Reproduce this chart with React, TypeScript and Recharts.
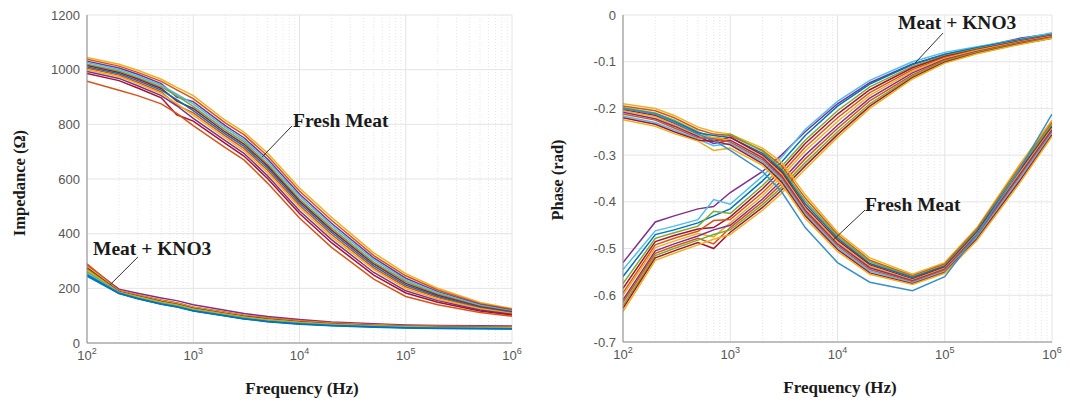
import React from 'react';
import { LineChart, Line, XAxis, YAxis, CartesianGrid, ReferenceLine, ReferenceDot } from 'recharts';

// sampled frequencies (Hz)
const FREQ = [100, 200, 300, 500, 700, 1000, 2000, 3000, 5000, 10000, 20000, 50000, 100000, 200000, 500000, 1000000];
const DECADE_TICKS = [100, 1000, 10000, 100000, 1000000];
const MINOR_TICKS = [
  200, 300, 400, 500, 600, 700, 800, 900,
  2000, 3000, 4000, 5000, 6000, 7000, 8000, 9000,
  20000, 30000, 40000, 50000, 60000, 70000, 80000, 90000,
  200000, 300000, 400000, 500000, 600000, 700000, 800000, 900000,
];
const IMP_TICKS = [0, 200, 400, 600, 800, 1000, 1200];
const PHASE_TICKS = [-0.7, -0.6, -0.5, -0.4, -0.3, -0.2, -0.1, 0];

// impedance, fresh meat (Ohm)
const impFresh = [
  [1045, 1020, 998, 965, 935, 905, 815, 772, 695, 567, 460, 330, 254, 200, 148, 126],
  [1038, 1013, 990, 957, 926, 894, 805, 762, 684, 556, 449, 320, 246, 194, 144, 123],
  [1031, 1006, 983, 949, 900, 883, 795, 751, 673, 545, 438, 311, 237, 188, 141, 120],
  [1026, 1001, 977, 943, 910, 875, 788, 743, 665, 537, 430, 304, 231, 184, 138, 118],
  [1020, 995, 971, 937, 904, 866, 780, 736, 656, 528, 421, 296, 225, 179, 135, 116],
  [1015, 990, 966, 931, 885, 858, 772, 728, 648, 520, 413, 289, 218, 175, 133, 114],
  [1010, 985, 960, 925, 890, 850, 765, 720, 640, 512, 405, 282, 212, 170, 130, 112],
  [1005, 980, 954, 919, 870, 842, 758, 712, 632, 504, 397, 275, 206, 166, 127, 110],
  [1000, 975, 949, 913, 876, 834, 750, 704, 623, 496, 388, 268, 199, 161, 125, 108],
  [993, 968, 941, 905, 868, 822, 740, 694, 612, 484, 378, 258, 191, 155, 121, 105],
  [986, 960, 933, 897, 835, 812, 730, 684, 602, 474, 367, 248, 183, 149, 117, 102],
  [958, 925, 905, 875, 840, 795, 715, 670, 585, 457, 350, 234, 170, 140, 112, 98],
];
const impFreshColors = ['#EDB120', '#D95319', '#7E2F8E', '#4DBEEE', '#77AC30', '#A2142F', '#0072BD', '#D95319', '#EDB120', '#7E2F8E', '#A2142F', '#D95319'];

// impedance, meat + KNO3 (Ohm)
const impKno3 = [
  [285, 197, 182, 165, 155, 140, 120, 108, 97, 86, 77, 70, 66, 64, 63, 62],
  [290, 192, 176, 157, 147, 132, 113, 102, 92, 82, 74, 67, 63, 61, 60, 59],
  [280, 190, 174, 155, 145, 130, 111, 100, 90, 80, 72, 66, 62, 60, 59, 58],
  [275, 188, 172, 152, 142, 127, 108, 98, 88, 78, 70, 64, 61, 59, 58, 57],
  [270, 186, 170, 150, 140, 125, 106, 96, 86, 76, 69, 63, 60, 58, 57, 56],
  [265, 185, 168, 148, 138, 123, 105, 94, 84, 75, 68, 62, 59, 57, 56, 55],
  [260, 184, 166, 146, 136, 121, 103, 92, 82, 73, 66, 61, 58, 56, 55, 54],
  [255, 183, 164, 144, 134, 119, 101, 90, 80, 71, 65, 60, 57, 55, 54, 53],
  [250, 182, 163, 143, 133, 118, 100, 89, 79, 70, 64, 59, 56, 54, 53, 52],
  [245, 181, 162, 142, 132, 117, 99, 88, 78, 69, 63, 58, 55, 53, 52, 51],
];
const impKno3Colors = ['#7E2F8E', '#D95319', '#EDB120', '#A2142F', '#77AC30', '#EDB120', '#77AC30', '#4DBEEE', '#0072BD', '#0072BD'];

// phase, fresh meat (rad)
const phFresh = [
  [-0.190, -0.200, -0.215, -0.240, -0.250, -0.255, -0.285, -0.315, -0.385, -0.465, -0.520, -0.555, -0.530, -0.455, -0.320, -0.225],
  [-0.195, -0.205, -0.220, -0.245, -0.255, -0.258, -0.290, -0.322, -0.392, -0.470, -0.525, -0.558, -0.533, -0.458, -0.325, -0.230],
  [-0.198, -0.210, -0.225, -0.250, -0.265, -0.255, -0.292, -0.328, -0.398, -0.474, -0.528, -0.560, -0.536, -0.461, -0.328, -0.234],
  [-0.200, -0.212, -0.228, -0.252, -0.258, -0.262, -0.296, -0.332, -0.404, -0.478, -0.532, -0.562, -0.538, -0.463, -0.332, -0.238],
  [-0.203, -0.215, -0.232, -0.255, -0.270, -0.262, -0.300, -0.336, -0.410, -0.482, -0.535, -0.565, -0.540, -0.466, -0.335, -0.240],
  [-0.205, -0.218, -0.235, -0.258, -0.262, -0.268, -0.303, -0.340, -0.414, -0.486, -0.538, -0.567, -0.542, -0.468, -0.338, -0.243],
  [-0.208, -0.222, -0.238, -0.260, -0.275, -0.268, -0.306, -0.344, -0.418, -0.490, -0.541, -0.569, -0.544, -0.470, -0.342, -0.246],
  [-0.212, -0.225, -0.242, -0.263, -0.265, -0.272, -0.310, -0.348, -0.422, -0.494, -0.545, -0.571, -0.546, -0.473, -0.346, -0.250],
  [-0.216, -0.230, -0.246, -0.266, -0.280, -0.275, -0.314, -0.352, -0.426, -0.498, -0.548, -0.573, -0.549, -0.476, -0.350, -0.253],
  [-0.220, -0.234, -0.250, -0.268, -0.270, -0.278, -0.318, -0.357, -0.430, -0.502, -0.552, -0.575, -0.551, -0.479, -0.355, -0.257],
  [-0.224, -0.238, -0.254, -0.270, -0.290, -0.285, -0.322, -0.362, -0.435, -0.506, -0.555, -0.577, -0.553, -0.482, -0.360, -0.260],
  [-0.200, -0.212, -0.230, -0.255, -0.268, -0.290, -0.335, -0.378, -0.455, -0.530, -0.572, -0.590, -0.560, -0.470, -0.330, -0.212],
];
const phFreshColors = ['#EDB120', '#D95319', '#77AC30', '#0072BD', '#A2142F', '#EDB120', '#7E2F8E', '#D95319', '#4DBEEE', '#A2142F', '#EDB120', '#3A8FC7'];

// phase, meat + KNO3 (rad)
const phKno3 = [
  [-0.530, -0.443, -0.430, -0.415, -0.410, -0.380, -0.335, -0.300, -0.250, -0.190, -0.145, -0.105, -0.085, -0.070, -0.050, -0.040],
  [-0.545, -0.462, -0.452, -0.438, -0.395, -0.405, -0.345, -0.305, -0.245, -0.185, -0.140, -0.100, -0.080, -0.068, -0.052, -0.038],
  [-0.560, -0.470, -0.460, -0.445, -0.430, -0.415, -0.355, -0.315, -0.258, -0.195, -0.148, -0.106, -0.084, -0.070, -0.053, -0.042],
  [-0.575, -0.478, -0.466, -0.452, -0.420, -0.425, -0.365, -0.325, -0.268, -0.205, -0.154, -0.110, -0.087, -0.072, -0.055, -0.043],
  [-0.585, -0.485, -0.472, -0.458, -0.455, -0.432, -0.372, -0.332, -0.275, -0.212, -0.160, -0.113, -0.089, -0.074, -0.056, -0.044],
  [-0.595, -0.492, -0.478, -0.463, -0.440, -0.438, -0.380, -0.340, -0.283, -0.220, -0.166, -0.117, -0.091, -0.075, -0.057, -0.045],
  [-0.600, -0.498, -0.484, -0.468, -0.475, -0.445, -0.387, -0.347, -0.291, -0.228, -0.172, -0.120, -0.093, -0.076, -0.058, -0.046],
  [-0.610, -0.505, -0.490, -0.473, -0.460, -0.450, -0.394, -0.355, -0.300, -0.236, -0.178, -0.124, -0.095, -0.078, -0.059, -0.047],
  [-0.615, -0.510, -0.495, -0.478, -0.490, -0.455, -0.400, -0.362, -0.308, -0.243, -0.184, -0.128, -0.097, -0.079, -0.060, -0.048],
  [-0.622, -0.515, -0.500, -0.482, -0.470, -0.460, -0.406, -0.369, -0.316, -0.250, -0.190, -0.131, -0.099, -0.080, -0.061, -0.049],
  [-0.628, -0.520, -0.505, -0.487, -0.500, -0.465, -0.412, -0.375, -0.323, -0.256, -0.195, -0.134, -0.101, -0.082, -0.062, -0.050],
  [-0.635, -0.525, -0.510, -0.492, -0.480, -0.470, -0.418, -0.382, -0.330, -0.262, -0.200, -0.137, -0.103, -0.083, -0.063, -0.050],
];
const phKno3Colors = ['#7E2F8E', '#4DBEEE', '#0072BD', '#77AC30', '#A2142F', '#D95319', '#EDB120', '#7E2F8E', '#D95319', '#77AC30', '#A2142F', '#EDB120'];

const buildRows = (a: number[][], b: number[][]) =>
  FREQ.map((f, i) => {
    const row: any = { f };
    a.forEach((c, j) => (row['a' + j] = c[i]));
    b.forEach((c, j) => (row['b' + j] = c[i]));
    return row;
  });

const impRows = buildRows(impFresh, impKno3);
const phRows = buildRows(phFresh, phKno3);

const SANS = '"Liberation Sans", Arial, sans-serif';
const SERIF = '"Liberation Serif", "Times New Roman", serif';
const AXIS = '#8c8c8c';

const PowTick = ({ x, y, payload }: any) => {
  const exp = Math.round(Math.log10(payload.value));
  return (
    <text x={x} y={y + 15} textAnchor="middle" fill="#555" fontSize={13} fontFamily={SANS}>
      10<tspan dy={-6} fontSize={9}>{exp}</tspan>
    </text>
  );
};

const noteStyle = { fill: '#1a1a1a', fontSize: 19.5, fontWeight: 700, fontFamily: SERIF };

// axes shared by both panels: log frequency, box, inward ticks
const frame = (yTicks: number[], yDomain: number[], yFmt: (v: number) => string) => [
  <CartesianGrid key="grid" stroke="#e4e4e4" />,
  ...MINOR_TICKS.map((m) => (
    <ReferenceLine key={'m' + m} x={m} stroke="#e6e6e6" strokeDasharray="1 2" />
  )),
  <XAxis key="x" dataKey="f" type="number" scale="log" domain={[100, 1000000]} ticks={DECADE_TICKS}
    tick={<PowTick />} tickSize={0} height={30} stroke={AXIS} allowDataOverflow />,
  <XAxis key="xb" xAxisId="bm" type="number" scale="log" domain={[100, 1000000]} ticks={MINOR_TICKS}
    mirror tick={false} tickSize={3} axisLine={false} stroke={AXIS} height={0} allowDataOverflow />,
  <XAxis key="xbM" xAxisId="bM" type="number" scale="log" domain={[100, 1000000]} ticks={DECADE_TICKS}
    mirror tick={false} tickSize={5} axisLine={false} stroke={AXIS} height={0} allowDataOverflow />,
  <XAxis key="xt" xAxisId="tm" orientation="top" type="number" scale="log" domain={[100, 1000000]} ticks={MINOR_TICKS}
    mirror tick={false} tickSize={3} stroke={AXIS} height={0} allowDataOverflow />,
  <XAxis key="xtM" xAxisId="tM" orientation="top" type="number" scale="log" domain={[100, 1000000]} ticks={DECADE_TICKS}
    mirror tick={false} tickSize={5} axisLine={false} stroke={AXIS} height={0} allowDataOverflow />,
  <YAxis key="y" type="number" domain={yDomain} ticks={yTicks} width={40} tickSize={0} tickMargin={7}
    tickFormatter={yFmt} stroke={AXIS} tick={{ fill: '#555', fontSize: 13, fontFamily: SANS }} allowDataOverflow />,
  <YAxis key="yl" yAxisId="lm" type="number" domain={yDomain} ticks={yTicks} mirror tick={false}
    tickSize={5} axisLine={false} stroke={AXIS} width={0} />,
  <YAxis key="yr" yAxisId="rm" orientation="right" type="number" domain={yDomain} ticks={yTicks} mirror
    tick={false} tickSize={5} stroke={AXIS} width={0} />,
];

const curves = (a: number[][], b: number[][], ca: string[], cb: string[]) => [
  ...b.map((_, j) => (
    <Line key={'b' + j} dataKey={'b' + j} stroke={cb[j]} strokeWidth={1.5} dot={false} isAnimationActive={false} />
  )),
  ...a.map((_, j) => (
    <Line key={'a' + j} dataKey={'a' + j} stroke={ca[j]} strokeWidth={1.5} dot={false} isAnimationActive={false} />
  )),
];

const titleStyle: React.CSSProperties = {
  position: 'absolute', fontFamily: SERIF, fontWeight: 700, fontSize: 17, color: '#1a1a1a', whiteSpace: 'nowrap',
};

export default function App() {
  return (
    <div style={{ position: 'absolute', left: 0, top: 0, width: 1084, height: 405, background: '#fff' }}>
      <div style={{ position: 'absolute', left: 0, top: 0 }}>
        <LineChart width={540} height={405} data={impRows} margin={{ top: 15, right: 28, bottom: 32, left: 47 }}>
          {frame(IMP_TICKS, [0, 1200], (v) => String(v))}
          {curves(impFresh, impKno3, impFreshColors, impKno3Colors)}
          <ReferenceLine segment={[{ x: 8490, y: 794 }, { x: 4440, y: 680 }]} stroke="#333" strokeWidth={1} />
          <ReferenceDot x={8690} y={816} r={0} stroke="none" label={{ value: 'Fresh Meat', position: 'right', offset: 0, ...noteStyle }} />
          <ReferenceLine segment={[{ x: 302, y: 315 }, { x: 164, y: 212 }]} stroke="#333" strokeWidth={1} />
          <ReferenceDot x={114} y={348} r={0} stroke="none" label={{ value: 'Meat + KNO3', position: 'right', offset: 0, ...noteStyle }} />
        </LineChart>
      </div>
      <div style={{ position: 'absolute', left: 540, top: 0 }}>
        <LineChart width={544} height={405} data={phRows} margin={{ top: 15, right: 32, bottom: 33, left: 43 }}>
          {frame(PHASE_TICKS, [-0.7, 0], (v) => (Math.abs(v) < 1e-9 ? '0' : v.toFixed(1)))}
          {curves(phFresh, phKno3, phFreshColors, phKno3Colors)}
          <ReferenceLine segment={[{ x: 96400, y: -0.0385 }, { x: 52800, y: -0.103 }]} stroke="#333" strokeWidth={1} />
          <ReferenceDot x={36650} y={-0.015} r={0} stroke="none" label={{ value: 'Meat + KNO3', position: 'right', offset: 0, ...noteStyle }} />
          <ReferenceLine segment={[{ x: 18030, y: -0.4176 }, { x: 9080, y: -0.482 }]} stroke="#333" strokeWidth={1} />
          <ReferenceDot x={18030} y={-0.405} r={0} stroke="none" label={{ value: 'Fresh Meat', position: 'right', offset: 0, ...noteStyle }} />
        </LineChart>
      </div>
      <div style={{ ...titleStyle, left: 302, top: 389, transform: 'translate(-50%, -50%)' }}>Frequency (Hz)</div>
      <div style={{ ...titleStyle, left: 840, top: 388, transform: 'translate(-50%, -50%)' }}>Frequency (Hz)</div>
      <div style={{ ...titleStyle, fontSize: 16.5, left: 20, top: 183, transform: 'translate(-50%, -50%) rotate(-90deg)' }}>Impedance (Ω)</div>
      <div style={{ ...titleStyle, fontSize: 16.5, left: 558, top: 180, transform: 'translate(-50%, -50%) rotate(-90deg)' }}>Phase (rad)</div>
    </div>
  );
}
